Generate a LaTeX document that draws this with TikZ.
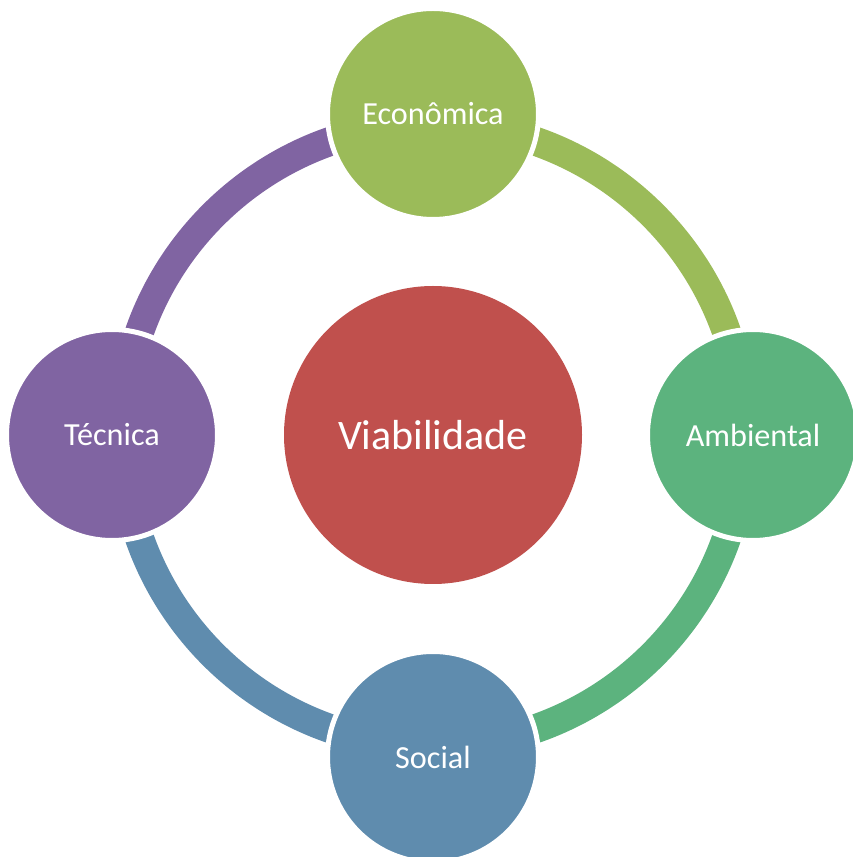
\documentclass[tikz,border=0pt]{standalone}
\usepackage{fontspec}
\setmainfont{Carlito}
\usetikzlibrary{calc}
\definecolor{cEco}{HTML}{9BBB59}
\definecolor{cAmb}{HTML}{5CB37E}
\definecolor{cSoc}{HTML}{5F8CAE}
\definecolor{cTec}{HTML}{8064A2}
\definecolor{cVia}{HTML}{C0504D}
\begin{document}
\begin{tikzpicture}[x=1pt,y=1pt,
  outer/.style={circle,fill=#1,draw=white,line width=5pt,minimum size=211pt,inner sep=0pt,
    text=white,font=\fontsize{32.2}{38}\selectfont},
  ring/.style={line width=29pt,draw=#1,line cap=butt}]
\useasboundingbox (0,0) rectangle (852,857);
\coordinate (O) at (433,422);
\coordinate (a1) at ($(O)+(90:311)$);
\coordinate (a2) at ($(O)+(0:311)$);
\coordinate (a3) at ($(O)+(-90:311)$);
\coordinate (a4) at ($(O)+(180:311)$);
\draw[ring=cEco] (a1) arc[start angle=90,end angle=0,radius=311];
\draw[ring=cAmb] (a2) arc[start angle=0,end angle=-90,radius=311];
\draw[ring=cSoc] (a3) arc[start angle=-90,end angle=-180,radius=311];
\draw[ring=cTec] (a4) arc[start angle=180,end angle=90,radius=311];
\node[outer=cEco] (eco) at (433,743) {Econômica};
\node[outer=cAmb] (amb) at (753,422) {Ambiental};
\node[outer=cSoc] (soc) at (433,100) {Social};
\node[outer=cTec] (tec) at (112,422) {Técnica};
\node[circle,fill=cVia,minimum size=298pt,inner sep=0pt,text=white,
  font=\fontsize{42}{50}\selectfont] (via) at (O) {Viabilidade};
\end{tikzpicture}
\end{document}
